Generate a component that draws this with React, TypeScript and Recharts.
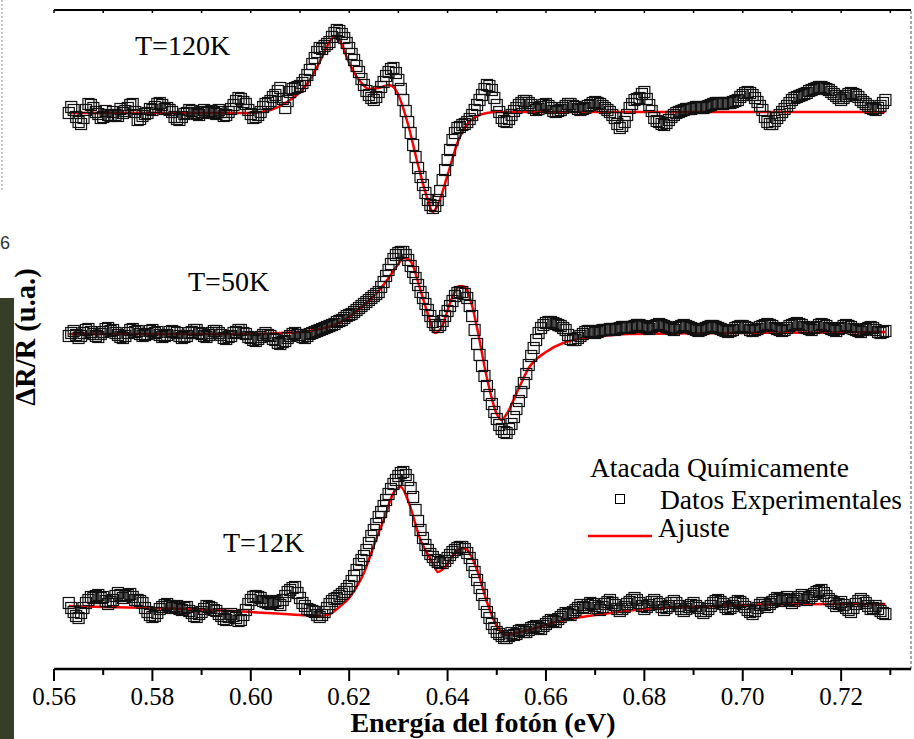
import React from 'react';
import { ComposedChart, XAxis, YAxis, Scatter, Line, ReferenceLine } from 'recharts';

// ---- sampling of the measured spectra (photon energy, eV)
const energyStart = 0.563;
const energyStep = 0.001; // whole-step readings; half-step readings lie 0.0005 eV later

// ---- measured ΔR/R (arbitrary units, relative to each curve's baseline)
// readings at 0.563, 0.564, ... 0.729
const signal120 = [
  0, 0.3, -0.9, -0.5, 0.9, 0.5, -0.1, -0.4, -0.2, 0.1,
  -0.3, 0, 0.5, 0.9, -0.7, -0.3, 0, 0.3, 0.9, 0.8,
  0.5, 0.1, -0.6, -0.4, 0, 0.2, -0.1, 0.1, 0, 0.2,
  -0.1, 0.1, -0.2, 0.4, 1.2, 1.4, 0.9, -0.1, -0.4, 0.1,
  0.9, 1.2, 1.8, 2.5, 0.5, 2.1, 2.5, 2.7, 3.3, 4.3,
  5.5, 6.5, 6.7, 7.1, 8.0, 8.2, 7.5, 6.5, 5.3, 4.1,
  2.8, 1.8, 1.3, 2.1, 3.1, 4.1, 4.5, 3.3, 1.3, -0.9,
  -3.2, -5.5, -7.2, -8.7, -9.5, -8.7, -6.7, -4.7, -2.7, -1.5,
  -1.2, -0.9, -0.2, 0.8, 1.8, 2.8, 2.3, 0.8, -0.5, -0.9,
  -0.2, 0.5, 1.0, 1.2, 0.8, 0.3, 0.6, 0.9, 0.5, 0.1,
  0.3, 0.7, 0.9, 0.6, 0.3, 0.5, 0.8, 1.1, 0.9, 0.5,
  0.1, -0.5, -1.5, -0.9, 0.5, 1.3, 1.5, 2.1, 0.8, -0.5,
  -0.9, -1.2, -0.7, -0.2, 0.1, 0.3, 0.4, 0.5, 0.6, 0.5,
  0.7, 0.9, 1.0, 0.9, 1.0, 1.1, 1.3, 1.8, 2.1, 1.8,
  1.1, 0.3, -0.9, -1.1, -0.5, 0.1, 0.7, 1.3, 1.6, 1.8,
  2.0, 2.3, 2.5, 2.6, 2.4, 2.1, 1.7, 1.3, 1.7, 2.0,
  1.8, 1.3, 0.9, 0.5, 0.3, 0.7, 1.3,
];
// readings at 0.5635, 0.5645, ... 0.7285
const signal120Half = [
  0.6, -0.4, -1.1, 0.3, 0.8, 0.1, -0.5, 0.2, -0.3, -0.2,
  0.4, 0.2, 0.8, 0.1, -0.6, -0.1, 0.4, 0.6, 1.0, 0.4,
  0.3, -0.4, -0.7, -0.1, 0.3, 0.0, -0.2, 0.3, 0.1, 0.0,
  0.3, -0.3, 0.1, 0.8, 1.5, 1.1, 0.3, -0.5, -0.2, 0.6,
  1.0, 1.6, 2.2, 1.4, 1.2, 2.4, 2.6, 3.0, 3.8, 4.9,
  6.1, 6.4, 6.9, 7.6, 8.3, 7.9, 7.0, 5.9, 4.7, 3.4,
  2.2, 1.5, 1.6, 2.6, 3.7, 4.4, 4.0, 2.4, 0.2, -2.0,
  -4.4, -6.4, -8.0, -9.2, -9.3, -7.8, -5.7, -3.7, -2.0, -1.4,
  -1.1, -0.6, 0.3, 1.3, 2.4, 2.7, 1.5, 0.1, -0.8, -0.6,
  0.2, 0.8, 1.2, 1.0, 0.5, 0.4, 0.8, 0.7, 0.2, 0.2,
  0.5, 0.9, 0.7, 0.4, 0.4, 0.7, 1.0, 1.0, 0.7, 0.3,
  -0.2, -1.1, -1.3, -0.2, 0.9, 1.4, 1.9, 1.4, 0.2, -0.8,
  -1.1, -1.0, -0.4, 0.0, 0.2, 0.4, 0.4, 0.6, 0.5, 0.6,
  0.8, 1.0, 0.9, 1.0, 1.0, 1.2, 1.6, 2.0, 2.0, 1.5,
  0.7, -0.4, -1.1, -0.8, -0.2, 0.4, 1.0, 1.5, 1.7, 1.9,
  2.2, 2.4, 2.6, 2.5, 2.3, 1.9, 1.5, 1.5, 1.9, 1.9,
  1.6, 1.1, 0.7, 0.4, 0.5, 1.0,
];

const signal50 = [
  -0.2, 0.3, -0.4, 0.1, 0.5, 0, -0.3, 0.2, 0.6, 0.4,
  -0.1, -0.4, 0.1, 0.5, 0.3, -0.2, 0, 0.4, 0.2, -0.3,
  -0.1, 0.3, 0.1, -0.4, -0.2, 0.2, 0.4, 0, -0.3, 0.1,
  0.3, -0.1, -0.5, -0.2, 0.2, 0.4, 0, -0.4, -0.7, -0.3,
  0.1, -0.2, -0.6, -1.0, -0.7, -0.2, 0.1, -0.1, -0.4, 0,
  0.2, 0.4, 0.6, 0.8, 1.0, 1.3, 1.6, 1.9, 2.2, 2.6,
  3.0, 3.4, 3.8, 4.2, 5.2, 6.4, 7.5, 8.1, 8.2, 7.4,
  6.2, 4.9, 3.6, 2.4, 1.2, 0.7, 1.3, 2.3, 3.3, 4.1,
  4.2, 3.6, 1.8, -1.0, -3.2, -5.2, -7.0, -8.5, -9.5, -9.9,
  -9.0, -7.5, -5.8, -4.0, -2.2, -0.6, 0.6, 1.1, 1.2, 1.0,
  0.8, 0.4, -0.5, -0.6, -0.2, 0.2, 0.3, 0.1, 0.3, 0.4,
  0.5, 0.4, 0.6, 0.7, 0.6, 0.8, 0.9, 0.7, 0.5, 0.8,
  1.0, 0.8, 0.6, 0.4, 0.7, 0.9, 0.7, 0.5, 0.3, 0.5,
  0.7, 0.8, 0.6, 0.4, 0.2, 0.4, 0.7, 0.8, 0.6, 0.3,
  0.5, 0.8, 1.0, 0.8, 0.5, 0.3, 0.6, 0.9, 1.1, 0.9,
  0.6, 0.4, 0.7, 1.0, 0.8, 0.5, 0.3, 0.6, 0.9, 0.7,
  0.4, 0.2, 0.5, 0.7, 0.4, 0.1, 0.3,
];
const signal50Half = [
  0.1, -0.1, -0.2, 0.4, 0.2, -0.2, 0.0, 0.5, 0.3, 0.1,
  -0.3, -0.2, 0.4, 0.2, 0.0, -0.1, 0.3, 0.1, -0.1, -0.2,
  0.2, 0.2, -0.2, -0.3, 0.1, 0.4, 0.1, -0.2, -0.1, 0.3,
  0.1, -0.4, -0.3, 0.1, 0.4, 0.1, -0.3, -0.6, -0.5, -0.1,
  -0.1, -0.5, -0.9, -0.8, -0.4, 0.0, -0.1, -0.3, -0.2, 0.1,
  0.3, 0.5, 0.7, 0.9, 1.2, 1.4, 1.8, 2.0, 2.4, 2.8,
  3.2, 3.6, 4.0, 4.7, 5.8, 7.0, 7.9, 8.2, 7.9, 6.8,
  5.6, 4.2, 3.0, 1.8, 0.9, 0.9, 1.8, 2.8, 3.8, 4.2,
  4.0, 2.8, 0.4, -2.1, -4.2, -6.1, -7.8, -9.1, -9.8, -9.5,
  -8.3, -6.7, -4.9, -3.1, -1.4, 0.1, 0.9, 1.2, 1.1, 0.9,
  0.6, -0.1, -0.6, -0.4, 0.0, 0.3, 0.2, 0.2, 0.4, 0.4,
  0.5, 0.5, 0.7, 0.6, 0.7, 0.9, 0.8, 0.6, 0.7, 0.9,
  0.9, 0.7, 0.5, 0.6, 0.8, 0.8, 0.6, 0.4, 0.4, 0.6,
  0.8, 0.7, 0.5, 0.3, 0.3, 0.6, 0.8, 0.7, 0.4, 0.4,
  0.7, 0.9, 0.9, 0.6, 0.4, 0.4, 0.8, 1.0, 1.0, 0.7,
  0.5, 0.6, 0.9, 0.9, 0.6, 0.4, 0.5, 0.8, 0.8, 0.5,
  0.3, 0.4, 0.6, 0.6, 0.2, 0.2,
];

const signal12 = [
  0.3, -0.6, -1.2, -0.2, 0.6, 0.8, 1.1, 0.9, 0.2, 0.6,
  1.3, 0.8, 1.1, 0.9, 0.6, 0.3, -0.6, -1.1, -0.7, -0.1,
  0.2, -0.2, 0, -0.4, -0.1, -0.7, -1.1, -0.6, 0, -0.2,
  -0.5, -1.0, -1.4, -0.8, -1.2, -1.4, -0.4, 0.6, 1.0, 0.8,
  0.4, 0.2, 0.5, 0.1, 1.0, 1.6, 1.9, 0.8, 0, -0.4,
  -0.6, -1.1, -0.6, 0.2, 0.7, 1.0, 1.4, 2.0, 3.0, 4.2,
  5.0, 6.3, 7.6, 8.9, 10.0, 11.2, 12.2, 13.0, 13.4, 12.6,
  10.9, 8.5, 6.8, 5.6, 4.9, 4.4, 4.3, 4.8, 5.4, 5.8,
  5.9, 5.3, 4.1, 2.6, 1.1, -0.6, -1.8, -2.6, -3.0, -3.2,
  -2.7, -2.8, -2.4, -2.6, -2.2, -2.0, -2.3, -1.8, -1.4, -1.6,
  -1.1, -0.7, -0.9, -0.4, 0.1, -0.2, 0.3, 0, -0.4, 0.2,
  0.6, 0.1, -0.5, -0.1, 0.4, 0.8, 0.3, -0.3, 0.1, 0.6,
  0.2, -0.4, 0, 0.5, 0, -0.5, -0.1, 0.3, -0.2, -0.7,
  -0.3, 0.3, 0.6, 0.2, -0.3, 0, 0.5, 0.2, -0.4, -0.8,
  -0.2, 0.3, -0.1, 0.4, 0.8, 0.5, 0.9, 0.3, 0.7, 1.1,
  0.6, 1.0, 1.4, 1.6, 1.0, 0.5, 0, 0.4, -0.2, -0.6,
  0.2, 0.7, 0.3, -0.3, 0, -0.5, -0.8,
];
const signal12Half = [
  -0.2, -1.0, -0.7, 0.3, 0.9, 1.0, 0.8, 0.5, 0.4, 1.0,
  1.1, 1.0, 1.2, 0.6, 0.5, -0.2, -0.9, -1.0, -0.3, 0.1,
  0.0, -0.1, -0.3, -0.2, -0.5, -1.0, -0.8, -0.3, -0.1, -0.4,
  -0.8, -1.3, -1.1, -1.0, -1.5, -0.9, 0.2, 0.9, 0.9, 0.5,
  0.3, 0.4, 0.3, 0.6, 1.4, 1.8, 1.3, 0.3, -0.3, -0.5,
  -0.9, -0.9, -0.2, 0.5, 0.8, 1.2, 1.7, 2.5, 3.6, 4.6,
  5.6, 7.0, 8.2, 9.4, 10.6, 11.7, 12.6, 13.3, 13.1, 11.8,
  9.6, 7.6, 6.1, 5.2, 4.6, 4.3, 4.5, 5.1, 5.6, 5.9,
  5.7, 4.8, 3.4, 1.8, 0.2, -1.2, -2.2, -2.8, -3.2, -3.0,
  -2.9, -2.5, -2.6, -2.4, -2.1, -2.2, -2.0, -1.6, -1.5, -1.3,
  -0.9, -0.8, -0.6, -0.2, -0.1, 0.1, 0.2, -0.2, -0.1, 0.4,
  0.3, -0.3, -0.3, 0.2, 0.6, 0.6, 0.0, -0.1, 0.4, 0.4,
  -0.1, -0.2, 0.3, 0.3, -0.3, -0.3, 0.1, 0.0, -0.5, -0.5,
  0.0, 0.5, 0.4, -0.1, -0.2, 0.3, 0.4, -0.1, -0.6, -0.5,
  0.1, 0.1, 0.2, 0.6, 0.7, 0.7, 0.6, 0.5, 0.9, 0.9,
  0.8, 1.2, 1.5, 1.3, 0.7, 0.3, 0.2, 0.1, -0.4, -0.2,
  0.5, 0.5, 0.0, -0.2, -0.3, -0.7,
];

// ---- vertical offsets used to stack the three temperatures
const offset120 = 55.6;
const offset50 = 33.5;
const offset12 = 6.3;

// ---- fitted curves (Ajuste)
const fitEnergy120 = [0.563, 0.57, 0.58, 0.59, 0.6, 0.604, 0.606, 0.608, 0.61, 0.612, 0.614, 0.616, 0.617, 0.618, 0.62, 0.622, 0.624, 0.626, 0.628, 0.629, 0.63, 0.632, 0.634, 0.636, 0.637, 0.638, 0.64, 0.642, 0.644, 0.646, 0.648, 0.65, 0.67, 0.7, 0.729];
const fitSignal120 = [0, 0, 0, 0, 0, 0.3, 0.7, 1.3, 2.1, 3.3, 5.1, 7.1, 7.6, 7.3, 5.0, 3.3, 2.4, 2.5, 2.8, 2.6, 1.8, -1.2, -5.2, -8.7, -9.9, -9.2, -6.2, -3.0, -1.1, -0.3, 0, 0.1, 0.1, 0.1, 0.1];

const fitEnergy50 = [0.563, 0.58, 0.6, 0.606, 0.61, 0.614, 0.617, 0.62, 0.622, 0.624, 0.626, 0.628, 0.63, 0.631, 0.632, 0.633, 0.634, 0.636, 0.6375, 0.639, 0.6405, 0.6425, 0.6435, 0.645, 0.646, 0.648, 0.65, 0.651, 0.652, 0.6545, 0.6565, 0.66, 0.6635, 0.67, 0.677, 0.7, 0.729];
const fitSignal50 = [0, 0, 0, 0.1, 0.2, 0.5, 0.9, 1.7, 2.5, 3.3, 4.3, 5.6, 7.0, 7.6, 7.5, 6.8, 5.2, 2.0, 0.1, 0.9, 3.1, 4.8, 4.7, 2.8, 0.6, -4.4, -8.0, -8.6, -8.0, -5.4, -3.4, -1.8, -0.9, -0.3, 0, 0.1, 0.2];

const fitEnergy12 = [0.563, 0.57, 0.58, 0.59, 0.6, 0.61, 0.6145, 0.6165, 0.618, 0.62, 0.6215, 0.623, 0.6242, 0.6255, 0.627, 0.629, 0.6305, 0.632, 0.6345, 0.637, 0.638, 0.6395, 0.641, 0.643, 0.644, 0.646, 0.648, 0.65, 0.652, 0.654, 0.658, 0.662, 0.666, 0.67, 0.68, 0.69, 0.7, 0.72, 0.729];
const fitSignal12 = [0, -0.1, -0.2, -0.35, -0.6, -0.9, -1.0, -0.7, -0.1, 0.8, 1.9, 3.3, 4.9, 6.7, 8.6, 11.3, 11.9, 10.5, 6.6, 4.3, 3.4, 3.9, 5.0, 5.8, 5.6, 3.6, 0.4, -2.0, -2.9, -2.7, -2.2, -1.6, -1.2, -0.9, -0.3, -0.1, 0.1, 0.2, 0.2];

// ---- axis ticks
const xTicks = [0.56, 0.57, 0.58, 0.59, 0.6, 0.61, 0.62, 0.63, 0.64, 0.65, 0.66, 0.67, 0.68, 0.69, 0.7, 0.71, 0.72, 0.73];
const xTickLabels = ['0.56', '', '0.58', '', '0.60', '', '0.62', '', '0.64', '', '0.66', '', '0.68', '', '0.70', '', '0.72', ''];
const xDomain: [number, number] = [0.56, 0.7342];
const yDomain: [number, number] = [0, 65.9];

const SERIF = "'Liberation Serif', 'Times New Roman', Times, serif";

const buildMeasured = (whole: number[], half: number[], offset: number) => {
  const out: { e: number; y: number }[] = [];
  whole.forEach((s, i) => {
    const e = energyStart + i * energyStep;
    out.push({ e: +e.toFixed(4), y: +(offset + s).toFixed(2) });
    if (i < half.length) out.push({ e: +(e + energyStep / 2).toFixed(4), y: +(offset + half[i]).toFixed(2) });
  });
  return out;
};
const buildFit = (energies: number[], signal: number[], offset: number) =>
  energies.map((e, i) => ({ e, y: +(offset + signal[i]).toFixed(2) }));

const data120 = buildMeasured(signal120, signal120Half, offset120);
const data50 = buildMeasured(signal50, signal50Half, offset50);
const data12 = buildMeasured(signal12, signal12Half, offset12);
const fit120 = buildFit(fitEnergy120, fitSignal120, offset120);
const fit50 = buildFit(fitEnergy50, fitSignal50, offset50);
const fit12 = buildFit(fitEnergy12, fitSignal12, offset12);

const tickIndex = (v: number) => xTicks.findIndex((t) => Math.abs(t - v) < 1e-6);

const BottomTick = (props: any) => {
  const { x, y, payload } = props;
  const idx = tickIndex(payload.value);
  const label = idx >= 0 ? xTickLabels[idx] : '';
  const major = label !== '';
  return (
    <g>
      <line x1={x} x2={x} y1={y} y2={y + (major ? 12 : 6)} stroke="#000" strokeWidth={2} />
      {major && (
        <text x={x} y={y + 36} textAnchor="middle" style={{ fontFamily: SERIF, fontSize: 25 }} fill="#000">
          {label}
        </text>
      )}
    </g>
  );
};

const TopTick = (props: any) => {
  const { x, y } = props;
  return <line x1={x} x2={x} y1={y} y2={y + 3} stroke="#000" strokeWidth={1.5} />;
};

const SquareMarker = (props: any) => {
  const { cx, cy } = props;
  if (cx == null || cy == null) return null;
  return <rect x={cx - 5.5} y={cy - 5.5} width={11} height={11} fill="none" stroke="#111" strokeWidth={1.2} />;
};

const textStyle = (size: number, bold = false): React.CSSProperties => ({
  fontFamily: SERIF,
  fontSize: size,
  fontWeight: bold ? 'bold' : 'normal',
});

export default function App() {
  return (
    <div style={{ position: 'absolute', left: 0, top: 0, width: 914, height: 739, background: '#fff', overflow: 'hidden' }}>
      <ComposedChart width={914} height={739} margin={{ top: 9, right: 3, bottom: 0, left: 54 }}>
        <XAxis
          xAxisId="main"
          type="number"
          dataKey="e"
          domain={xDomain}
          allowDataOverflow
          ticks={xTicks}
          interval={0}
          height={70}
          tickSize={0}
          tickMargin={0}
          tickLine={false}
          axisLine={{ stroke: '#000', strokeWidth: 2.5 }}
          tick={<BottomTick />}
        />
        <XAxis
          xAxisId="top"
          orientation="top"
          type="number"
          dataKey="e"
          domain={xDomain}
          allowDataOverflow
          ticks={xTicks}
          interval={0}
          height={1}
          tickSize={0}
          tickMargin={0}
          tickLine={false}
          axisLine={{ stroke: '#000', strokeWidth: 2 }}
          tick={<TopTick />}
        />
        <YAxis
          yAxisId="main"
          type="number"
          dataKey="y"
          domain={yDomain}
          allowDataOverflow
          width={0}
          tick={false}
          tickLine={false}
          axisLine={{ stroke: '#111', strokeWidth: 2 }}
        />
        <ReferenceLine xAxisId="main" yAxisId="main" x={xDomain[1]} stroke="#8a8a8a" strokeWidth={1.5} strokeDasharray="3 2" />
        <Scatter xAxisId="main" yAxisId="main" data={data120} dataKey="y" shape={<SquareMarker />} isAnimationActive={false} />
        <Scatter xAxisId="main" yAxisId="main" data={data50} dataKey="y" shape={<SquareMarker />} isAnimationActive={false} />
        <Scatter xAxisId="main" yAxisId="main" data={data12} dataKey="y" shape={<SquareMarker />} isAnimationActive={false} />
        <Line xAxisId="main" yAxisId="main" data={fit120} dataKey="y" type="monotone" stroke="#ff0000" strokeWidth={2.5} dot={false} activeDot={false} isAnimationActive={false} />
        <Line xAxisId="main" yAxisId="main" data={fit50} dataKey="y" type="monotone" stroke="#ff0000" strokeWidth={2.5} dot={false} activeDot={false} isAnimationActive={false} />
        <Line xAxisId="main" yAxisId="main" data={fit12} dataKey="y" type="monotone" stroke="#ff0000" strokeWidth={2.5} dot={false} activeDot={false} isAnimationActive={false} />
      </ComposedChart>
      <svg width={914} height={739} style={{ position: 'absolute', left: 0, top: 0, pointerEvents: 'none' }}>
        {/* remnants of the neighbouring slide at the left edge */}
        <line x1={2} x2={2} y1={0} y2={190} stroke="#8a8a8a" strokeWidth={1} strokeDasharray="2 2" />
        <text x={0} y={249} style={{ fontFamily: "'Liberation Sans', Arial, sans-serif", fontSize: 18 }} fill="#333">6</text>
        <rect x={0} y={298} width={14} height={441} fill="#373e27" />

        <text x={135} y={55} style={textStyle(28)} fill="#000">T=120K</text>
        <text x={188} y={291} style={textStyle(28)} fill="#000">T=50K</text>
        <text x={223} y={552} style={textStyle(28)} fill="#000">T=12K</text>

        <text x={590} y={477} style={textStyle(27.5)} fill="#000">Atacada Químicamente</text>
        <rect x={615.5} y={494.5} width={9} height={9} fill="none" stroke="#000" strokeWidth={1} />
        <text x={660} y={509} style={textStyle(27.5)} fill="#000">Datos Experimentales</text>
        <line x1={588} x2={652} y1={536} y2={536} stroke="#ff0000" strokeWidth={2.5} />
        <text x={658} y={537} style={textStyle(27.5)} fill="#000">Ajuste</text>

        <text transform="translate(35,337) rotate(-90)" textAnchor="middle" style={textStyle(28.5, true)} fill="#000">ΔR/R (u.a.)</text>
        <text x={483} y={732} textAnchor="middle" style={textStyle(28, true)} fill="#000">Energía del fotón (eV)</text>
      </svg>
    </div>
  );
}
